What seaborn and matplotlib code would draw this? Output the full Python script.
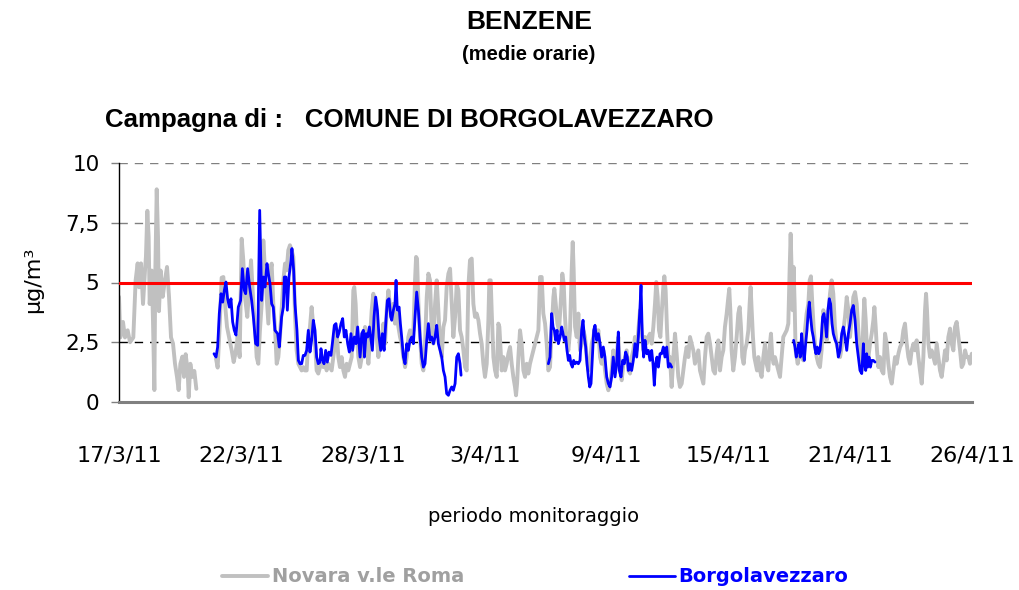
import matplotlib
matplotlib.use("Agg")
import matplotlib.pyplot as plt
from matplotlib.lines import Line2D
import numpy as np
import pandas as pd
import seaborn as sns

# ---------------- data (hours since 17/3/11 00:00, benzene µg/m3) ----------------
novara_seg1 = [(0, 4.4), (1.5, 2.7), (4.6, 3.35), (6.9, 2.7), (10, 3.0), (12.7, 2.5), (16.5, 2.7),
               (19.2, 5.1), (21.5, 5.8), (23.1, 4.8), (25.4, 5.8), (27.7, 4.1), (30, 5.5), (31.1, 6.1),
               (32.7, 8.0), (34.2, 6.9), (35.4, 4.1), (37.7, 5.5), (39.2, 3.4), (40.8, 0.5), (41.9, 5.5),
               (43.5, 8.9), (45, 6.9), (46.1, 3.8), (48, 5.5), (50.4, 4.4), (53, 5.1), (55.4, 5.65),
               (57.7, 4.4), (60, 2.7), (62.3, 2.45), (64.6, 1.6), (66.9, 1.05), (68.8, 0.5), (70.8, 1.6),
               (73.1, 1.9), (75, 1.05), (76.9, 2.0), (79.2, 1.3), (80.4, 0.2), (82.3, 1.6), (84.6, 1.05),
               (86.9, 1.3), (89.2, 0.55)]

novara_seg2 = [(111.9, 1.81), (113.8, 1.44), (116.1, 3.14), (118.4, 5.2), (120.4, 5.23), (122.3, 4.11),
               (124.6, 3.14), (126.9, 2.72), (130, 2.16), (132.3, 1.67), (134.6, 2.09), (136.9, 2.72),
               (139.2, 1.88), (141.5, 6.83), (143.4, 5.93), (145.3, 4.39), (148, 3.56), (150.3, 4.81),
               (152.3, 5.93), (155, 4.11), (156.9, 3.14), (158.8, 1.88), (160.7, 1.6), (162.6, 3.0),
               (164.6, 4.11), (166.5, 6.76), (168.4, 5.51), (170.3, 4.39), (172.3, 3.28), (174.2, 5.37),
               (176.1, 5.79), (178, 4.11), (179.9, 3.14), (181.9, 1.6), (183.8, 1.88), (185.7, 2.72),
               (187.6, 3.84), (189.6, 5.09), (191.5, 5.79), (193.4, 5.51), (195.3, 6.35), (197.2, 6.56),
               (199.2, 6.35), (201.1, 6.07), (203, 3.7), (204.9, 2.16), (206.9, 1.6), (208.8, 1.46),
               (210.7, 1.32), (212.6, 1.46), (214.5, 1.32), (216.5, 1.32), (218.4, 2.72), (220.3, 3.14),
               (222.2, 3.97), (224.2, 3.14), (226.1, 2.44), (228, 1.32), (229.9, 1.19), (231.9, 1.46),
               (233.8, 1.6), (235.7, 1.46), (237.6, 1.74), (239.5, 1.32), (241.5, 1.6), (243.4, 1.46),
               (245.3, 1.32), (247.2, 1.88), (249.2, 2.44), (251.1, 3.0), (253, 1.88), (254.9, 1.46),
               (256.8, 1.88), (258.8, 1.32), (260.7, 1.05), (262.6, 1.6), (264.5, 1.32), (266.5, 1.6),
               (268.4, 1.88), (270.3, 4.67), (271.4, 4.81), (273, 4.11), (274.5, 2.72), (276.1, 1.88),
               (278.1, 1.46), (280, 1.88), (281.9, 2.44), (283.8, 3.14), (285.8, 2.44), (287.7, 1.6),
               (289.6, 2.72), (291.5, 3.84), (293.4, 4.53), (295.4, 3.56), (297.3, 2.72), (299.2, 1.88),
               (301.1, 2.44), (303.1, 2.58), (305, 3.28), (306.9, 2.44), (308.8, 3.84), (310.8, 4.67),
               (312.7, 3.97), (314.6, 3.56), (316.5, 4.11), (318.4, 3.28), (320.4, 3.7), (322.3, 3.14),
               (324.2, 2.72), (326.1, 2.44), (328.1, 1.88), (330, 1.46), (331.9, 1.88), (333.8, 2.72),
               (335.7, 3.0), (337.7, 2.72), (339.6, 3.0), (341.5, 5.09), (342.7, 6.07), (343.8, 6.0),
               (345.4, 4.11), (347.3, 2.72), (349.2, 1.6), (351.1, 1.32), (353, 2.44), (355, 4.39),
               (356.9, 5.37), (358.8, 5.09), (360.7, 3.0), (362.7, 2.44), (364.6, 4.11), (366.5, 5.09),
               (368.4, 3.84), (370.3, 2.44), (372.3, 1.88), (374.2, 3.14), (376.1, 3.42), (378, 4.81),
               (380, 5.37), (381.9, 5.58), (383.8, 4.11), (385.7, 2.72), (387.7, 3.56), (389.6, 4.95),
               (391.5, 4.67), (393.4, 3.0), (395.3, 2.72), (397.3, 2.16), (399.2, 1.46), (401.1, 1.32),
               (403, 4.81), (404.9, 5.93), (406.9, 6.0), (408.8, 4.11), (410.7, 3.56), (412.6, 3.7),
               (414.6, 3.42), (416.5, 2.86), (418.4, 2.44), (420.3, 1.6), (422.2, 1.05), (424.2, 1.6),
               (426.1, 3.42), (427.2, 5.09), (428.8, 5.09), (429.9, 3.84), (431.9, 1.88), (433.8, 1.32),
               (435.7, 1.05), (437.6, 3.28), (438.8, 3.14), (440.3, 2.16), (441.5, 1.32), (443.4, 1.88),
               (445.3, 1.32), (447.2, 1.6), (449.2, 2.02), (451.1, 2.3), (453, 1.6), (454.9, 1.05),
               (456.8, 0.63), (458, 0.28), (459.2, 0.77), (460.7, 1.88), (462.6, 3.0), (464.5, 2.44),
               (466.5, 1.32), (468.4, 1.05), (470.3, 1.6), (472.2, 1.19), (474.1, 1.6), (476.1, 1.88),
               (478, 2.16), (479.9, 2.44), (481.8, 2.72), (483.8, 3.0), (485.7, 5.23), (487.6, 5.23),
               (489.5, 3.7), (491.5, 3.28), (493.4, 2.44), (495.3, 1.32), (497.2, 1.46), (499.1, 3.0),
               (501.1, 4.39), (502.2, 4.74), (503.8, 4.11), (505.7, 3.28), (507.6, 3.0), (509.5, 4.11),
               (511.4, 5.37), (513, 4.95), (514.5, 3.56), (516.4, 2.44), (518.4, 2.16), (520.3, 3.0),
               (522.2, 5.51), (523.4, 6.69), (524.5, 5.51), (526.1, 3.14), (528, 2.72), (529.9, 3.7),
               (531.8, 2.16), (533.7, 2.44), (535.7, 3.0), (537.6, 2.72), (539.5, 1.88), (541.4, 1.32),
               (543.4, 1.6), (545.3, 2.44), (547.2, 2.72), (549.1, 3.14), (551, 2.72), (553, 3.0),
               (554.9, 1.88), (556.8, 1.6), (558.7, 2.16), (560.6, 1.32), (562.6, 0.77), (564.5, 0.49),
               (566.4, 0.77), (568.3, 1.32), (570.2, 2.16), (572.2, 1.32), (574.1, 1.88), (576, 2.72),
               (577.9, 1.32), (579.9, 0.91), (581.8, 1.6), (583.7, 1.88), (585.6, 2.16), (587.6, 1.32),
               (589.5, 1.19), (591.4, 1.88), (593.3, 2.16), (595.2, 2.72), (597.2, 2.16), (599.1, 3.0),
               (601, 3.84), (602.9, 3.0), (604.9, 2.16), (606.8, 2.72), (608.7, 2.44), (610.6, 2.72),
               (612.5, 2.86), (614.5, 2.44), (616.4, 3.14), (618.3, 4.11), (619.8, 5.02), (621.4, 4.39),
               (622.9, 3.0), (624.5, 2.72), (626, 3.7), (627.9, 4.81), (629.1, 5.26), (630.6, 4.67),
               (632.2, 3.0), (633.7, 1.88), (635.6, 1.88), (637.5, 0.63), (639.5, 1.88), (641.4, 2.86),
               (643.3, 2.02), (645.2, 1.05), (647.1, 0.63), (649.1, 0.77), (651, 1.32), (652.9, 1.88),
               (654.8, 2.3), (656.8, 1.88), (658.7, 2.72), (660.6, 2.44), (662.5, 2.16), (664.4, 1.6),
               (666.4, 1.88), (668.3, 2.16), (670.2, 1.32), (672.1, 1.05), (674.1, 0.77), (676, 1.88),
               (677.9, 2.72), (679.8, 2.86), (681.8, 2.44), (683.7, 1.88), (685.6, 1.32), (687.5, 1.19),
               (689.4, 2.02), (691.4, 2.58), (693.3, 1.32), (695.2, 1.88), (697.1, 2.16), (699, 3.14),
               (701, 3.7), (702.9, 4.39), (704, 4.74), (705.2, 3.84), (706.7, 2.16), (708.6, 1.32),
               (710.6, 1.88), (712.5, 2.72), (714.4, 3.7), (716, 3.97), (717.5, 3.14), (719, 1.88),
               (720.6, 1.6), (722.1, 2.16), (724, 2.44), (726, 3.0), (727.5, 4.11), (728.6, 4.81),
               (729.8, 3.84), (731.3, 2.72), (732.9, 1.88), (734.4, 1.6), (736, 1.32), (737.5, 1.88),
               (739.4, 1.32), (741.3, 1.05), (743.3, 1.88), (745.2, 2.44), (747.1, 1.6), (749, 1.32),
               (750.9, 2.44), (752.1, 2.86), (753.6, 1.88), (755.2, 1.6), (756.7, 1.88), (758.6, 1.6),
               (760.6, 1.32), (762.5, 1.05), (764.4, 1.88), (766.3, 2.72), (768.2, 2.86), (770.2, 3.0),
               (772.1, 3.28), (773.6, 5.51), (774.8, 7.04), (775.9, 5.51), (777.1, 3.84), (778.2, 5.65),
               (779.4, 4.11), (780.5, 2.16), (782.9, 1.6), (784.4, 1.88), (785.9, 1.88), (787.5, 2.16),
               (789.4, 1.74), (791.3, 3.0), (793.2, 3.7), (795.2, 4.11), (796.7, 5.09), (798.2, 5.26),
               (799.8, 4.11), (801.3, 3.14), (802.9, 2.44), (804.8, 1.88), (806.7, 1.6), (808.6, 1.46),
               (810.5, 2.16), (812.5, 3.84), (814.4, 3.56), (816.3, 2.58), (818.2, 3.7), (820.2, 4.53),
               (822.1, 5.09), (824, 4.53), (825.9, 3.14), (827.8, 2.44), (829.8, 2.16), (831.8, 1.88),
               (833.7, 2.3), (835.6, 3.0), (837.5, 3.56), (839.5, 4.39), (841.4, 3.84), (843.3, 2.72),
               (845.2, 3.56), (847.1, 4.39), (849.1, 4.6), (851, 4.11), (852.9, 3.0), (854.8, 1.88),
               (856.8, 1.32), (858.7, 3.42), (859.8, 4.32), (861.4, 3.42), (862.9, 2.16), (864.5, 1.88),
               (866.4, 2.44), (868.3, 2.86), (870.2, 3.42), (871.4, 3.97), (872.9, 3.14), (874.4, 2.16),
               (876, 1.46), (877.9, 1.88), (879.8, 1.32), (881.8, 1.19), (883.7, 2.86), (885.6, 2.44),
               (887.5, 1.6), (889.4, 1.05), (891.4, 0.77), (893.3, 1.32), (895.2, 1.88), (897.1, 1.6),
               (899.1, 2.02), (901, 2.3), (902.9, 2.44), (904.8, 3.0), (906.7, 3.28), (908.7, 2.44),
               (910.6, 1.88), (912.5, 1.6), (914.4, 2.16), (916.4, 2.44), (918.3, 2.16), (920.2, 2.58),
               (922.1, 1.88), (924, 1.32), (926, 0.77), (927.9, 1.88), (929.8, 3.84), (931, 4.53),
               (932.1, 3.84), (933.7, 2.44), (935.6, 1.88), (937.5, 2.16), (939.4, 1.88), (941.4, 1.6),
               (943.3, 2.44), (945.2, 1.88), (947.1, 1.32), (949, 1.05), (951, 1.6), (952.9, 2.16),
               (954.8, 1.74), (956.7, 2.72), (958.7, 3.07), (960.6, 2.44), (962.5, 2.16), (964.4, 3.14),
               (966.3, 3.35), (968.3, 2.72), (970.2, 2.16), (972.1, 1.46), (974, 1.6), (976, 2.16),
               (977.9, 1.88), (979.8, 1.88), (981.7, 1.6), (983.7, 2.02)]

borgo_seg1 = [(109.6, 2.02), (111.9, 1.88), (113.8, 2.3), (115.7, 3.7), (117.7, 4.53), (119.6, 4.18),
              (121.5, 4.67), (123.4, 5.02), (125.3, 4.32), (127.3, 3.97), (129.2, 4.32), (131.1, 3.35),
              (133, 3.0), (135, 2.8), (137.6, 3.97), (140.3, 4.25), (142.3, 5.58), (144.6, 4.67),
              (146.1, 4.53), (148.4, 5.58), (150.7, 4.81), (153, 4.25), (155, 3.56), (157.6, 2.44),
              (160, 2.37), (162.3, 8.02), (164.6, 4.25), (166.5, 5.23), (168.4, 4.81), (170.7, 5.79),
              (172.3, 5.37), (174.2, 4.95), (176.1, 4.11), (178, 3.97), (179.9, 3.0), (183, 2.86),
              (184.9, 2.3), (187.6, 3.56), (189.6, 3.97), (190.7, 5.23), (192.6, 5.23), (194.2, 3.84),
              (196.1, 5.23), (198.4, 5.93), (199.5, 6.42), (201.5, 5.51), (203, 4.11), (205.3, 3.0),
              (206.9, 1.74), (208.8, 1.6), (210.7, 1.6), (212.6, 1.95), (214.5, 1.95), (216.5, 2.16),
              (218.4, 3.0), (220.3, 2.09), (222.2, 2.58), (224.2, 3.42), (226.1, 3.0), (228, 1.88),
              (229.9, 1.6), (231.9, 1.67), (233, 2.23), (234.5, 1.81), (236.5, 1.6), (238.4, 2.16),
              (240.3, 1.67), (242.2, 2.09), (244.5, 1.95), (246.1, 2.44), (248.4, 3.21), (250.3, 3.28),
              (252.2, 2.72), (254.1, 2.93), (256.1, 3.28), (258, 3.49), (259.9, 2.72), (261.8, 3.0),
              (263.8, 2.44), (265.7, 2.09), (267.6, 2.86), (269.5, 2.16), (271.5, 2.72), (273.4, 2.44),
              (275.3, 3.14), (278.1, 1.88), (280, 2.86), (281.9, 3.0), (283.1, 1.88), (285, 2.86),
              (286.9, 2.72), (288.8, 3.14), (290.8, 2.58), (292.3, 2.16), (294.2, 3.56), (296.1, 4.39),
              (298.1, 3.84), (300, 2.72), (301.9, 2.16), (303.8, 2.86), (305.8, 2.16), (307.7, 3.28),
              (309.6, 4.25), (311.5, 4.32), (313.4, 3.56), (314.6, 3.42), (316.5, 3.84), (318.4, 4.11),
              (319.6, 5.09), (321.1, 3.84), (323.1, 3.97), (324.6, 3.28), (326.1, 2.72), (328.1, 1.88),
              (330, 1.6), (331.9, 2.44), (333.8, 2.16), (335.7, 2.58), (337.7, 2.72), (339.6, 2.44),
              (341.5, 3.56), (343.4, 4.6), (345.4, 3.84), (347.3, 2.72), (349.2, 1.88), (351.1, 1.46),
              (353, 1.6), (355, 2.58), (356.9, 3.28), (358.8, 2.58), (360.7, 2.72), (362.7, 2.44),
              (364.6, 2.72), (366.5, 3.21), (368.4, 2.44), (370.3, 2.16), (372.3, 1.88), (374.2, 1.32),
              (376.1, 1.05), (378, 0.35), (380, 0.28), (381.9, 0.49), (383.8, 0.63), (385.7, 0.49),
              (387.7, 0.77), (389.6, 1.88), (391.5, 2.02), (393.4, 1.6), (394.6, 1.12)]

borgo_seg2 = [(495.3, 1.6), (497.2, 1.88), (499.1, 3.7), (500.7, 3.14), (502.2, 3.0), (503.8, 2.58),
              (505.3, 3.0), (506.8, 2.44), (508.8, 2.72), (510.7, 3.14), (512.2, 2.86), (513.7, 2.58),
              (515.3, 2.72), (516.8, 2.16), (518.4, 1.74), (519.9, 1.95), (521.4, 1.6), (523, 1.46),
              (524.5, 1.74), (526.1, 1.6), (528, 1.67), (529.9, 1.6), (531.8, 1.74), (533.7, 3.0),
              (535.3, 3.42), (536.8, 2.72), (538.4, 2.3), (539.9, 1.6), (541.4, 1.05), (543, 0.63),
              (544.5, 0.77), (546.1, 1.88), (547.6, 3.0), (549.1, 3.21), (551, 2.58), (553, 2.86),
              (554.9, 2.44), (556.8, 1.88), (558.7, 2.3), (560.6, 1.88), (562.6, 1.05), (564.5, 0.77),
              (566.4, 0.63), (568.3, 1.05), (570.2, 1.88), (572.2, 1.05), (574.1, 1.6), (576, 2.93),
              (577.2, 1.32), (579.1, 1.05), (581, 1.74), (582.9, 1.6), (584.5, 2.09), (586.4, 1.88),
              (587.6, 1.32), (589.5, 1.6), (591.4, 1.32), (593.3, 1.74), (595.2, 2.44), (597.2, 1.88),
              (599.1, 2.72), (601, 3.97), (602.2, 4.88), (603.7, 2.72), (605.2, 1.88), (606.8, 2.58),
              (608.7, 2.02), (610.6, 2.16), (612.5, 1.74), (614.5, 2.16), (616, 1.6), (617.5, 0.7),
              (619.1, 1.6), (620.6, 1.88), (622.2, 1.46), (624.1, 2.02), (626, 2.02), (627.9, 2.3),
              (629.8, 1.88), (631.8, 2.3), (633.7, 1.46), (635.6, 1.6), (637.5, 1.46)]

borgo_seg3 = [(778.2, 2.58), (779.8, 2.3), (781.3, 1.88), (782.9, 2.16), (784.4, 2.44), (785.9, 1.88),
              (787.5, 2.86), (789, 2.16), (790.5, 1.74), (792.1, 2.44), (793.6, 3.0), (795.2, 3.84),
              (796.3, 4.18), (797.8, 3.56), (799.4, 3.0), (800.9, 2.72), (802.5, 2.3), (804, 2.02),
              (805.5, 2.3), (807.1, 2.02), (808.6, 2.16), (810.2, 2.72), (811.7, 3.56), (813.2, 3.7),
              (814.8, 3.28), (816.3, 2.72), (817.8, 3.84), (819.4, 4.32), (820.9, 4.11), (822.5, 3.28),
              (824, 2.86), (826, 2.6), (827.9, 2.44), (829.8, 1.88), (831.8, 2.16), (833.7, 2.86),
              (835.6, 3.14), (837.5, 2.72), (839.5, 2.16), (841.4, 2.86), (843.3, 3.28), (845.2, 3.84),
              (847.1, 4.04), (849.1, 3.42), (851, 2.44), (852.9, 1.88), (854.8, 1.32), (856.8, 1.19),
              (858.7, 2.44), (859.8, 1.6), (861.4, 1.32), (862.5, 2.02), (863.7, 1.46), (865.2, 1.88),
              (866.8, 1.46), (868.3, 1.74), (870.2, 1.74), (872.1, 1.67)]

limit_value = 5
period_hours = 984
x_tick_labels = ["17/3/11", "22/3/11", "28/3/11", "3/4/11", "9/4/11", "15/4/11", "21/4/11", "26/4/11"]
y_ticks = [0, 2.5, 5, 7.5, 10]
y_tick_labels = ["0", "2,5", "5", "7,5", "10"]
series_names = ["Novara v.le Roma", "Borgolavezzaro"]


def to_frame(segments):
    rows = []
    for i, seg in enumerate(segments):
        for h, v in seg:
            rows.append({"hour": h, "value": v, "seg": i})
    return pd.DataFrame(rows)


novara_df = to_frame([novara_seg1, novara_seg2])
borgo_df = to_frame([borgo_seg1, borgo_seg2, borgo_seg3])

# ---------------- style ----------------
sns.set_theme(style="white")
plt.rcParams["font.family"] = ["DejaVu Sans"]
plt.rcParams["text.color"] = "black"
plt.rcParams["axes.labelcolor"] = "black"
plt.rcParams["xtick.color"] = "black"
plt.rcParams["ytick.color"] = "black"

W, H = 1020, 590
fig = plt.figure(figsize=(W / 100, H / 100), dpi=100)
fig.patch.set_facecolor("white")
ax = fig.add_axes([119 / W, 1 - 402 / H, (972 - 119) / W, (402 - 163) / H])

GRAY = "#c0c0c0"
BLUE = "#0000ff"

sns.lineplot(data=novara_df, x="hour", y="value", units="seg", estimator=None,
             color=GRAY, linewidth=2.8, ax=ax, legend=False, zorder=2)
sns.lineplot(data=borgo_df, x="hour", y="value", units="seg", estimator=None,
             color=BLUE, linewidth=2.0, ax=ax, legend=False, zorder=4)

ax.axhline(limit_value, color="#ff0000", linewidth=2.2, zorder=3)

ax.set_xlim(0, period_hours)
ax.set_ylim(0, 10)

# gridlines
for y in y_ticks[1:]:
    if y == limit_value:
        continue
    col = "#000000" if y == 2.5 else "#808080"
    ax.axhline(y, color=col, linewidth=1.0, linestyle=(0, (6, 5)), zorder=0.5)

ax.set_yticks(y_ticks)
ax.set_yticklabels(y_tick_labels)
ax.set_xticks(np.linspace(0, period_hours, len(x_tick_labels)))
ax.set_xticklabels(x_tick_labels)
ax.tick_params(axis="y", which="major", length=6, width=1, color="#808080",
               direction="out", left=True, labelsize=15.5, pad=8, labelcolor="black")
ax.tick_params(axis="x", which="major", length=0, labelsize=16, pad=31, labelcolor="black")

for s in ["top", "right"]:
    ax.spines[s].set_visible(False)
ax.spines["left"].set_color("black")
ax.spines["left"].set_linewidth(1.0)
ax.spines["bottom"].set_color("#808080")
ax.spines["bottom"].set_linewidth(2.2)

ax.set_xlabel("")
ax.set_ylabel("")

# titles & labels
fig.text(529 / W, 1 - 22 / H, "BENZENE", ha="center", va="center", color="black",
         family="Liberation Sans", weight="bold", fontsize=19)
fig.text(529 / W, 1 - 55 / H, "(medie orarie)", ha="center", va="center", color="black",
         family="Liberation Sans", weight="bold", fontsize=14.5)
fig.text(105 / W, 1 - 120 / H, "Campagna di :   COMUNE DI BORGOLAVEZZARO", ha="left", va="center",
         color="black", family="Liberation Sans", weight="bold", fontsize=18.6)
fig.text(33 / W, 1 - 280 / H, "µg/m³", ha="center", va="center", rotation=90, fontsize=16,
         color="black")
fig.text(534 / W, 1 - 517 / H, "periodo monitoraggio", ha="center", va="center", fontsize=14,
         color="black")

# legend
handles = [Line2D([0], [0], color=GRAY, linewidth=2.8),
           Line2D([0], [0], color=BLUE, linewidth=2.0)]
leg = fig.legend(handles, series_names, loc="center left",
                 bbox_to_anchor=(222 / W, 1 - 577 / H), bbox_transform=fig.transFigure,
                 ncol=2, frameon=False, handlelength=2.35, handletextpad=0.2,
                 columnspacing=8.5, borderpad=0, borderaxespad=0,
                 prop={"weight": "bold", "size": 14})
leg.get_texts()[0].set_color("#a0a0a0")
leg.get_texts()[1].set_color(BLUE)

fig.savefig("out.png", dpi=100, facecolor="white")
